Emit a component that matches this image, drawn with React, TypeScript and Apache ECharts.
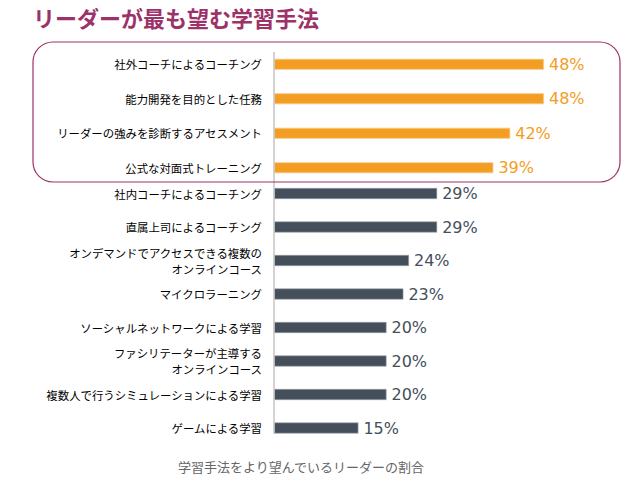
import React, { useEffect, useRef } from "react";
import * as echarts from "echarts";

const titleText = "リーダーが最も望む学習手法";
const captionText = "学習手法をより望んでいるリーダーの割合";

const categoriesTop = [
  "社外コーチによるコーチング",
  "能力開発を目的とした任務",
  "リーダーの強みを診断するアセスメント",
  "公式な対面式トレーニング",
];
const valuesTop = [48, 48, 42, 39];

const categoriesBottom = [
  "社内コーチによるコーチング",
  "直属上司によるコーチング",
  "オンデマンドでアクセスできる複数の\nオンラインコース",
  "マイクロラーニング",
  "ソーシャルネットワークによる学習",
  "ファシリテーターが主導する\nオンラインコース",
  "複数人で行うシミュレーションによる学習",
  "ゲームによる学習",
];
const valuesBottom = [29, 29, 24, 23, 20, 20, 20, 15];

const ORANGE = "#f39d22";
const DARK = "#444f5b";
const PLUM = "#9c3268";
const CJK = "'Noto Sans CJK JP', 'Noto Sans', sans-serif";
const NUM = "'DejaVu Sans', 'Open Sans', sans-serif";

export default function App() {
  const ref = useRef<HTMLDivElement>(null);

  useEffect(() => {
    document.body.style.margin = "0";
    const chart = echarts.init(ref.current!, null, { renderer: "svg" });
    const axisLabel = {
      fontFamily: CJK,
      fontSize: 11.4,
      color: "#000",
      margin: 12,
      lineHeight: 16,
    };
    const xAxisBase = { type: "value", min: 0, max: 50, show: false };
    chart.setOption({
      animation: false,
      backgroundColor: "#fff",
      grid: [
        { left: 274, top: 47, width: 281.25, height: 138 },
        { left: 274, top: 176.75, width: 281.25, height: 268 },
      ],
      xAxis: [
        { ...xAxisBase, gridIndex: 0 },
        { ...xAxisBase, gridIndex: 1 },
      ],
      yAxis: [
        {
          type: "category",
          gridIndex: 0,
          inverse: true,
          data: categoriesTop,
          axisLine: { show: false },
          axisTick: { show: false },
          axisLabel,
        },
        {
          type: "category",
          gridIndex: 1,
          inverse: true,
          data: categoriesBottom,
          axisLine: { show: false },
          axisTick: { show: false },
          axisLabel,
        },
      ],
      series: [
        {
          type: "bar",
          xAxisIndex: 0,
          yAxisIndex: 0,
          data: valuesTop,
          barWidth: 11,
          itemStyle: { color: ORANGE, borderColor: "#f8c98a", borderWidth: 0.8 },
          label: {
            show: true,
            position: "right",
            distance: 5,
            formatter: "{c}%",
            fontFamily: NUM,
            fontSize: 16,
            color: ORANGE,
          },
        },
        {
          type: "bar",
          xAxisIndex: 1,
          yAxisIndex: 1,
          data: valuesBottom,
          barWidth: 11,
          itemStyle: { color: DARK, borderColor: "#9aa2ab", borderWidth: 0.6 },
          label: {
            show: true,
            position: "right",
            distance: 5,
            formatter: "{c}%",
            fontFamily: NUM,
            fontSize: 16,
            color: DARK,
          },
        },
      ],
      graphic: [
        {
          type: "text",
          left: 33,
          top: 6,
          style: {
            text: titleText,
            fontFamily: CJK,
            fontSize: 22,
            fontWeight: "bold",
            fill: PLUM,
          },
        },
        {
          type: "rect",
          shape: { x: 33, y: 42, width: 587, height: 140, r: 20 },
          style: { fill: "none", stroke: PLUM, lineWidth: 1.2 },
          z: 10,
        },
        {
          type: "line",
          shape: { x1: 274, y1: 52, x2: 274, y2: 434 },
          style: { stroke: "#c4c4c4", lineWidth: 1.5 },
          z: 5,
        },
        {
          type: "text",
          x: 301,
          y: 466,
          style: {
            text: captionText,
            fontFamily: CJK,
            fontSize: 13,
            fill: "#666",
            align: "center",
            verticalAlign: "middle",
          },
        },
      ],
    });
    return () => chart.dispose();
  }, []);

  return <div ref={ref} style={{ width: 642, height: 489 }} />;
}
